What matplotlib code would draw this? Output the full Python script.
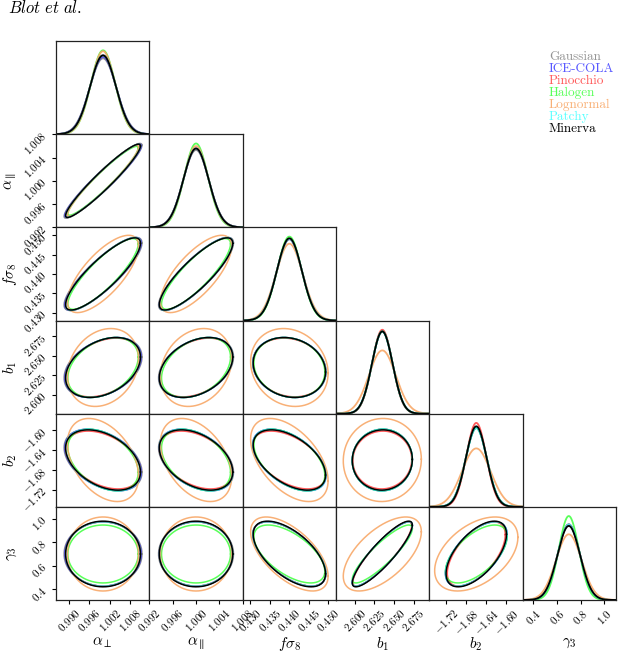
import numpy as np
import matplotlib
matplotlib.use('Agg')
import matplotlib.pyplot as plt

plt.rcParams['mathtext.fontset'] = 'cm'

# parameters (order of the corner plot)
param_labels = [r'$\alpha_\perp$', r'$\alpha_\parallel$', r'$f\sigma_8$', r'$b_1$', r'$b_2$', r'$\gamma_3$']
param_means = [1.000, 1.000, 0.440, 2.635, -1.660, 0.700]
param_sigmas = [0.00379, 0.00217, 0.00324, 0.0132, 0.0213, 0.0941]
param_limits = [(0.9862, 1.0136), (0.992, 1.008), (0.428, 0.452),
                (2.576, 2.695), (-1.754, -1.567), (0.31, 1.10)]

ticks_aperp = [0.990, 0.996, 1.002, 1.008]
ticks_apar = [0.992, 0.996, 1.000, 1.004, 1.008]
ticks_fs8 = [0.430, 0.435, 0.440, 0.445, 0.450]
ticks_b1 = [2.600, 2.625, 2.650, 2.675]
ticks_b2 = [-1.72, -1.68, -1.64, -1.60]
ticks_g3 = [0.4, 0.6, 0.8, 1.0]
param_ticks = [ticks_aperp, ticks_apar, ticks_fs8, ticks_b1, ticks_b2, ticks_g3]
tick_fmt = ['%.3f', '%.3f', '%.3f', '%.3f', '%.2f', '%.1f']

# correlation coefficients (a_perp, a_par, fs8, b1, b2, g3)
corr = [
    [1.00, 0.95, 0.85, 0.35, -0.40, 0.00],
    [0.95, 1.00, 0.85, 0.35, -0.40, 0.00],
    [0.85, 0.85, 1.00, -0.15, -0.50, -0.60],
    [0.35, 0.35, -0.15, 1.00, 0.02, 0.88],
    [-0.40, -0.40, -0.50, 0.02, 1.00, 0.60],
    [0.00, 0.00, -0.60, 0.88, 0.60, 1.00],
]

models = ['Gaussian', 'ICE-COLA', 'Pinocchio', 'Halogen', 'Lognormal', 'Patchy', 'Minerva']
colors = ['#7a7a7a', '#3030ff', '#ff3030', '#30ff30', '#f8a868', '#30ffff', '#000000']
alphas = [0.8, 0.8, 0.8, 0.8, 0.9, 0.8, 1.0]

# width of each model relative to the mean one, per parameter
sigma_scale = [
    [1.04, 1.02, 1.00, 1.00, 1.00, 1.00],
    [1.02, 1.00, 1.00, 1.00, 1.00, 1.00],
    [1.00, 1.00, 1.00, 0.98, 0.94, 1.00],
    [0.94, 0.94, 0.97, 1.00, 1.00, 0.90],
    [0.95, 0.97, 1.06, 1.30, 1.35, 1.15],
    [1.00, 1.00, 1.00, 1.00, 1.00, 1.00],
    [1.00, 1.00, 0.99, 1.00, 0.98, 1.02],
]
# Lognormal correlations that differ from the others
lognormal_corr = [(0, 2, 0.72), (1, 2, 0.72), (3, 5, 0.60), (4, 5, 0.45), (0, 3, 0.22), (1, 3, 0.22)]

contour_sigma = 2.9
n = len(param_labels)

fig, axes = plt.subplots(n, n, figsize=(6.21, 6.52), dpi=100)
fig.subplots_adjust(left=0.0902, right=0.992, bottom=0.0798, top=0.937, wspace=0, hspace=0)

t = np.linspace(0, 2 * np.pi, 300)


def model_corr(m, a, b):
    r = corr[a][b]
    if models[m] == 'Lognormal':
        for p, q, v in lognormal_corr:
            if (p, q) == (min(a, b), max(a, b)):
                r = v
    return r


for i in range(n):
    for j in range(n):
        ax = axes[i, j]
        if j > i:
            ax.set_visible(False)
            continue
        if i == j:
            lo, hi = param_limits[i]
            x = np.linspace(lo, hi, 400)
            top = 0
            for m in range(len(models)):
                s = param_sigmas[i] * sigma_scale[m][i]
                pdf = np.exp(-0.5 * ((x - param_means[i]) / s) ** 2) / (s * np.sqrt(2 * np.pi))
                top = max(top, pdf.max())
                ax.plot(x, pdf, color=colors[m], lw=1.3, alpha=alphas[m])
            ax.set_ylim(0, top * 1.11)
        else:
            for m in range(len(models)):
                sx = param_sigmas[j] * sigma_scale[m][j]
                sy = param_sigmas[i] * sigma_scale[m][i]
                r = model_corr(m, i, j)
                cov = np.array([[sx ** 2, r * sx * sy], [r * sx * sy, sy ** 2]])
                L = np.linalg.cholesky(cov)
                pts = contour_sigma * L @ np.vstack([np.cos(t), np.sin(t)])
                ax.plot(param_means[j] + pts[0], param_means[i] + pts[1],
                        color=colors[m], lw=1.1, alpha=alphas[m])
            ax.set_ylim(param_limits[i])
        ax.set_xlim(param_limits[j])

        for sp in ax.spines.values():
            sp.set_linewidth(0.9)
            sp.set_color('#222222')
        ax.tick_params(direction='out', length=3, width=0.8, labelsize=8, pad=2)

        if i == n - 1:
            ax.set_xticks(param_ticks[j])
            ax.set_xticklabels(['$' + tick_fmt[j] % v + '$' for v in param_ticks[j]], rotation=45)
            ax.set_xlabel(param_labels[j], fontsize=11)
            ax.xaxis.set_label_coords(0.5, -0.38)
        else:
            ax.set_xticks([])
        if j == 0 and i > 0:
            ax.set_yticks(param_ticks[i])
            ax.set_yticklabels(['$' + tick_fmt[i] % v + '$' for v in param_ticks[i]], rotation=45)
            ax.set_ylabel(param_labels[i], fontsize=11)
            ax.yaxis.set_label_coords(-0.40, 0.5)
        else:
            ax.set_yticks([])

# legend as coloured names
for k, name in enumerate(models):
    fig.text(0.884, 1 - (57 + 12 * k) / 652, name, color=colors[k], alpha=alphas[k],
             family='cmr10', fontsize=9.5, va='center', ha='left')

fig.text(0.013, 0.988, r'$Blot\ et\ al.$', fontsize=12, va='center', ha='left')

fig.savefig('out.png', dpi=100)
